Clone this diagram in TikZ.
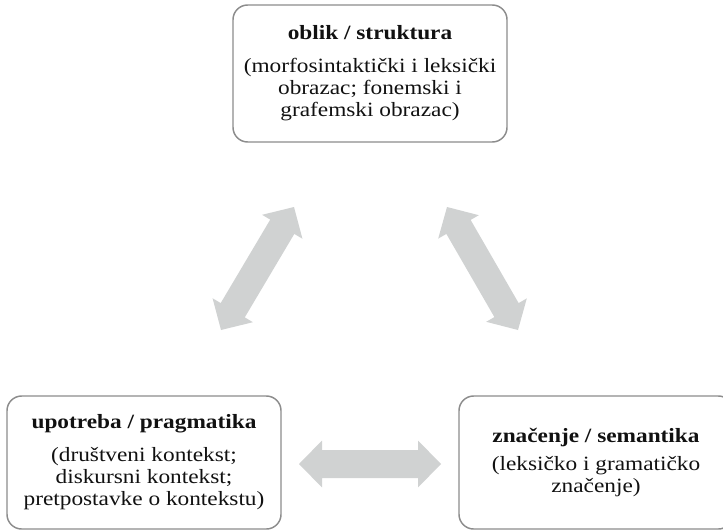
\documentclass[tikz,border=0pt]{standalone}
\usepackage{fontspec}
\setmainfont{Liberation Serif}[FakeStretch=1.15]
\usetikzlibrary{calc}
\definecolor{boxline}{HTML}{8C8C8C}
\definecolor{arrowgray}{HTML}{D0D2D2}
\definecolor{txt}{HTML}{111111}
\newcommand\fatarrow[3]{%
  \coordinate (#3ha) at ($(#1)!17.25pt!(#2)$);
  \coordinate (#3hb) at ($(#2)!17.25pt!(#1)$);
  \fill[arrowgray] (#1)
    -- ($(#3ha)!17.6pt!90:(#2)$) -- ($(#3ha)!10.5pt!90:(#2)$)
    -- ($(#3hb)!10.5pt!-90:(#1)$) -- ($(#3hb)!17.6pt!-90:(#1)$)
    -- (#2)
    -- ($(#3hb)!17.6pt!90:(#1)$) -- ($(#3hb)!10.5pt!90:(#1)$)
    -- ($(#3ha)!10.5pt!-90:(#2)$) -- ($(#3ha)!17.6pt!-90:(#2)$)
    -- cycle;}
\newcommand\headline[1]{{\bfseries #1}}
\begin{document}
\begin{tikzpicture}[x=0.75pt,y=-0.75pt,
  box/.style={draw=boxline, line width=1.1pt, rounded corners=11pt,
    minimum width=205.5pt, align=center, text=txt, inner sep=0pt,
    font=\fontsize{15.2}{16.5}\selectfont}]
\useasboundingbox (0,0) rectangle (723,531);
\clip (0,0) rectangle (723,531);
\node[box, minimum height=102.75pt] (form) at (370,73.5)
  {\headline{oblik / struktura}\\[8.25pt]
   (morfosintaktički i leksički\\ obrazac; fonemski i\\ grafemski obrazac)};
\node[box, minimum height=99.75pt] (use) at (144,462.5)
  {\headline{upotreba / pragmatika}\\[8.25pt]
   (društveni kontekst;\\ diskursni kontekst;\\ pretpostavke o kontekstu)};
\node[box, minimum height=99.75pt] (mean) at (596,462.5)
  {\headline{značenje / semantika}\\[4.5pt]
   (leksičko i gramatičko\\ značenje)};
\coordinate (a1) at (294,207);
\coordinate (a2) at (221,330);
\coordinate (b1) at (447,207);
\coordinate (b2) at (518,330);
\coordinate (c1) at (299,464);
\coordinate (c2) at (441,464);
\fatarrow{a1}{a2}{ar}
\fatarrow{b1}{b2}{br}
\fatarrow{c1}{c2}{cr}
\end{tikzpicture}
\end{document}
